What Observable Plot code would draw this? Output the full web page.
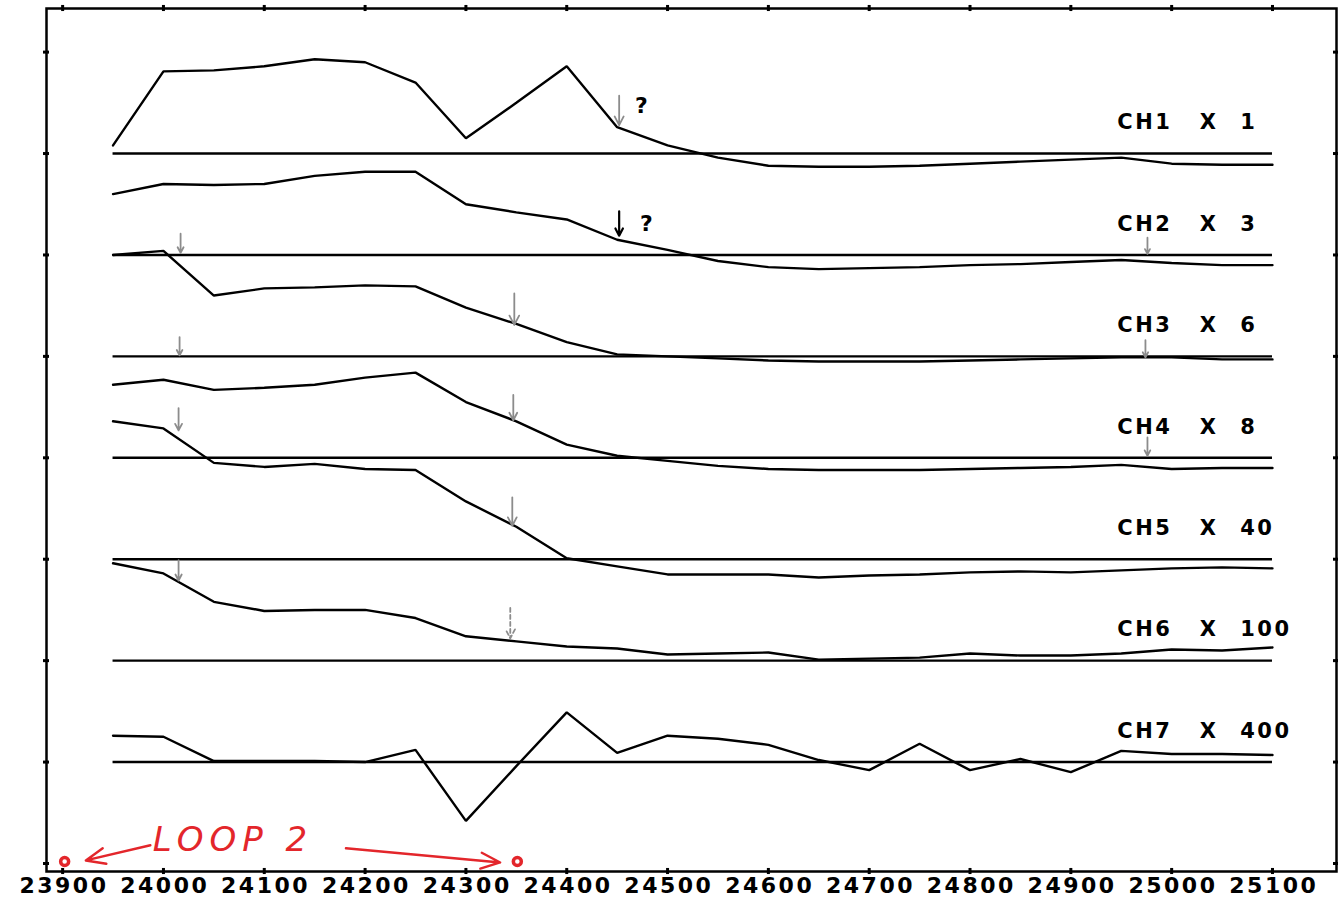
<!DOCTYPE html>
<html><head><meta charset="utf-8">
<script src="https://cdn.jsdelivr.net/npm/d3@7"></script>
<script src="https://cdn.jsdelivr.net/npm/@observablehq/plot@0.6"></script>
<style>
body{margin:0;background:#fff}
</style>
</head><body><div id="chart"></div>
<script>
// Stations (x) and channel profiles (deflection above each channel's baseline)
const stations = [23950,24000,24050,24100,24150,24200,24250,24300,24350,24400,24450,24500,24550,24600,24650,24700,24750,24800,24850,24900,24950,25000,25050,25100];
const channels = ["CH1","CH2","CH3","CH4","CH5","CH6","CH7"];
const multipliers = ["1","3","6","8","40","100","400"];
const baselines = [700,600,500,400,300,200,100];
const ch1 = [8,81,82,86,93,90,70,15,50,86,26,8,-4,-12,-13,-13,-12,-10,-8,-6,-4,-10,-11,-11];
const ch2 = [60,70,69,70,78,82,82,50,42,35,15,5,-6,-12,-14,-13,-12,-10,-9,-7,-5,-8,-10,-10];
const ch3 = [100,104,60,67,68,70,69,48,32,14,2,0,-2,-4,-5,-5,-5,-4,-3,-2,-1,-1,-3,-3];
const ch4 = [72,77,67,69,72,79,84,55,36,13,2,-3,-8,-11,-12,-12,-12,-11,-10,-9,-7,-11,-10,-10];
const ch5 = [136,129,95,91,94,89,88,57,32,1,-7,-15,-15,-15,-18,-16,-15,-13,-12,-13,-11,-9,-8,-9];
const ch6 = [96,86,58,49,50,50,42,24,19,14,12,6,7,8,1,2,3,7,5,5,7,11,10,13];
const ch7 = [26,25,1,1,1,0,12,-58,-4,49,9,26,23,17,2,-8,18,-8,3,-10,11,8,8,7];
const xTicks = [23900,24000,24100,24200,24300,24400,24500,24600,24700,24800,24900,25000,25100];
const yTicks = [0,100,200,300,400,500,600,700,800];
const xDomain = [23884, 25163.5];
const yDomain = [-7.9, 843];

// Hand annotations
const grayArrows = [
  {x: 24452, y1: 757, y2: 728, dash: false},
  {x: 24017, y1: 621, y2: 602, dash: false},
  {x: 24976, y1: 617, y2: 601, dash: false},
  {x: 24348, y1: 562, y2: 531, dash: false},
  {x: 24016, y1: 519, y2: 501, dash: false},
  {x: 24974, y1: 516, y2: 499, dash: false},
  {x: 24347, y1: 462, y2: 437, dash: false},
  {x: 24015, y1: 449, y2: 427, dash: false},
  {x: 24976, y1: 420, y2: 402, dash: false},
  {x: 24346, y1: 361, y2: 333, dash: false},
  {x: 24015, y1: 299, y2: 279, dash: false},
  {x: 24344, y1: 252, y2: 222, dash: true}
];
const blackArrows = [{x: 24452, y1: 643, y2: 619}];
const questions = [{x: 24474, y: 747}, {x: 24479, y: 631}];
const redArrows = [
  {x1: 23987, y1: 18, x2: 23923, y2: 3},
  {x1: 24181, y1: 15, x2: 24334, y2: 1}
];
const redCircles = [{x: 23902, y: 2}, {x: 24351, y: 2}];
const loopLabel = [{x: 24069, y: 23, text: "LOOP 2"}];
const chLabelX = {name: 24946, times: 25036, mult: 25068};

const chValues = [ch1, ch2, ch3, ch4, ch5, ch6, ch7];
const rows = chValues.flatMap((vals, i) => vals.map((v, j) => ({ch: channels[i], x: stations[j], y: baselines[i] + v})));
const red = "#e3262b";
const font = "DejaVu Sans";

const plot = Plot.plot({
  width: 1338, height: 897,
  marginLeft: 46, marginRight: 2, marginTop: 8, marginBottom: 26,
  x: {domain: xDomain, axis: null},
  y: {domain: yDomain, axis: null},
  style: {fontFamily: font, background: "#fff"},
  marks: [
    Plot.frame({stroke: "black", strokeWidth: 2.5}),
    Plot.ruleX(xTicks, {x: d => d, y1: yDomain[0] - 3, y2: yDomain[0] + 3, strokeWidth: 3}),
    Plot.ruleX(xTicks, {x: d => d, y1: yDomain[1] - 3, y2: yDomain[1] + 3, strokeWidth: 3}),
    Plot.ruleY(yTicks, {y: d => d, x1: xDomain[0] - 3, x2: xDomain[0] + 3, strokeWidth: 3}),
    Plot.ruleY(yTicks, {y: d => d, x1: xDomain[1] - 3, x2: xDomain[1] + 3, strokeWidth: 3}),
    Plot.text(xTicks, {x: d => d, y: yDomain[0], dy: 14, dx: 1.3, text: d => String(d), fontSize: 22, fontWeight: "bold", lineAnchor: "middle", fill: "black"}),
    Plot.ruleY(baselines, {y: d => d, x1: stations[0], x2: stations[stations.length - 1], stroke: "black", strokeWidth: 2.4}),
    Plot.line(rows, {x: "x", y: "y", z: "ch", stroke: "black", strokeWidth: 2.4, strokeLinejoin: "miter"}),
    Plot.text(channels, {x: chLabelX.name, y: (d, i) => baselines[i] + 30.5, text: d => d, textAnchor: "start", fontSize: 21, fontWeight: "bold", lineAnchor: "middle"}),
    Plot.text(channels, {x: chLabelX.times, y: (d, i) => baselines[i] + 30.5, text: d => "X", textAnchor: "middle", fontSize: 21, fontWeight: "bold", lineAnchor: "middle"}),
    Plot.text(multipliers, {x: chLabelX.mult, y: (d, i) => baselines[i] + 30.5, text: d => d, textAnchor: "start", fontSize: 21, fontWeight: "bold", lineAnchor: "middle"}),
    Plot.arrow(grayArrows.filter(d => !d.dash), {x1: "x", x2: "x", y1: "y1", y2: "y2", stroke: "#8c8c8c", strokeWidth: 1.8, headLength: 10, headAngle: 55}),
    Plot.arrow(grayArrows.filter(d => d.dash), {x1: "x", x2: "x", y1: "y1", y2: "y2", stroke: "#8c8c8c", strokeWidth: 1.8, headLength: 10, headAngle: 55, strokeDasharray: "4,3"}),
    Plot.arrow(blackArrows, {x1: "x", x2: "x", y1: "y1", y2: "y2", stroke: "black", strokeWidth: 2.2, headLength: 11, headAngle: 55}),
    Plot.text(questions, {x: "x", y: "y", text: d => "?", fontSize: 22, fontWeight: "bold", fill: "black"}),
    Plot.arrow(redArrows, {x1: "x1", y1: "y1", x2: "x2", y2: "y2", stroke: red, strokeWidth: 2.4, headLength: 13, headAngle: 45}),
    Plot.dot(redCircles, {x: "x", y: "y", r: 4, stroke: red, strokeWidth: 3.5, fill: "none"}),
    Plot.text(loopLabel, {x: "x", y: "y", text: "text", fill: red, fontSize: 34, fontStyle: "italic", fontWeight: 300})
  ]
});
// Wide plotter-style lettering
d3.select(plot).selectAll("text").each(function() {
  const t = this.textContent;
  if (/^\d{5}$/.test(t)) this.style.letterSpacing = "2.5px";
  else if (/^CH\d$/.test(t) || multipliers.includes(t)) this.style.letterSpacing = "2.5px";
  else if (t === "LOOP 2") this.style.letterSpacing = "6px";
});
document.getElementById("chart").appendChild(plot);
</script>
</body></html>
